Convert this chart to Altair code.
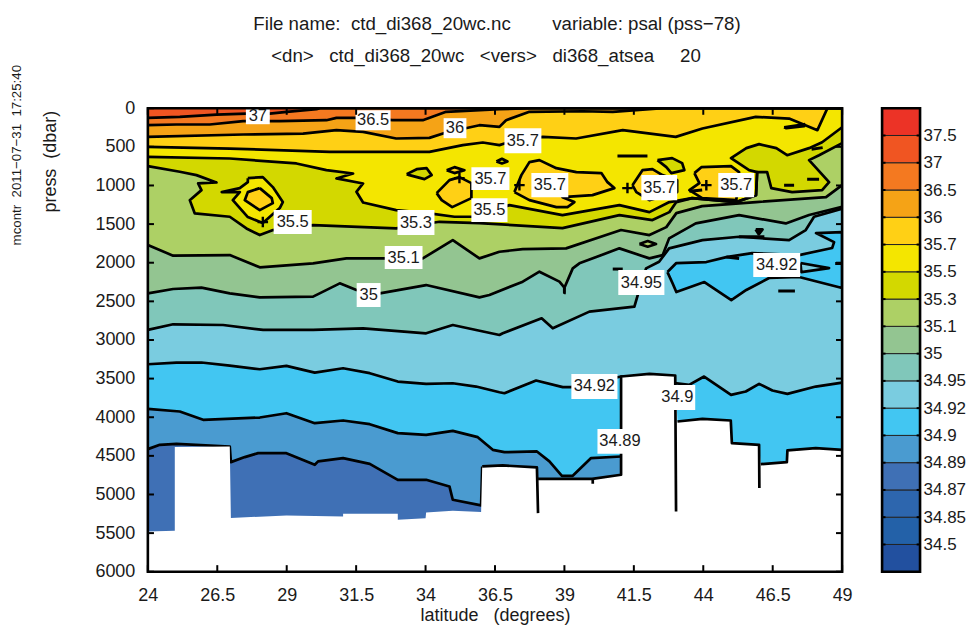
import altair as alt
import pandas as pd

FONT = "Liberation Sans"
INK = "#1a1a1a"

title_line1 = "File name:\u00a0\u00a0ctd_di368_20wc.nc\u00a0\u00a0\u00a0\u00a0\u00a0\u00a0\u00a0\u00a0variable: psal (pss\u221278)"
title_line2 = "<dn>\u00a0\u00a0\u00a0ctd_di368_20wc\u00a0\u00a0\u00a0<vers>\u00a0\u00a0\u00a0di368_atsea\u00a0\u00a0\u00a0\u00a0\u00a020"
stamp = "mcontr\u00a0\u00a02011\u221207\u221231\u00a0\u00a017:25:40"
y_title = "press\u00a0\u00a0(dbar)"
x_title = "latitude\u00a0\u00a0\u00a0(degrees)"

lat_ticks = [24, 26.5, 29, 31.5, 34, 36.5, 39, 41.5, 44, 46.5, 49]
press_ticks = [0, 500, 1000, 1500, 2000, 2500, 3000, 3500, 4000, 4500, 5000, 5500, 6000]

bar_labels = ["34.5", "34.85", "34.87", "34.89", "34.9", "34.92", "34.95", "35", "35.1", "35.3", "35.5", "35.7", "36", "36.5", "37", "37.5"]
bar_colors = ["#22509F", "#2361A8", "#2D66AE", "#3F70B5", "#4A9BD0", "#42C6F2", "#7ACCE0", "#80C7BA", "#93C591", "#ADD065",
              "#D3D800", "#F4E600", "#FFD015", "#F5A316", "#F47920", "#F05522", "#EC3326"]

# contour lines: latitude, pressure
c37_lat = [24, 25.15, 26.47, 27.55, 28.39, 29, 30.07, 30.2, 49]
c37_p = [125, 112, 82, 69, 69, 47, 13, 0, 0]
c365_lat = [24, 25.03, 26.23, 27.43, 28.75, 30.43, 30.79, 31.51, 32.82, 33.9, 34.74, 36.66, 37.8, 49]
c365_p = [220, 211, 211, 168, 168, 155, 125, 125, 155, 155, 47, 13, 0, 0]
c36_lat = [24, 27.43, 29.59, 30.79, 31.75, 32.94, 34.14, 34.74, 35.94, 36.66, 36.9, 37.74, 39.66, 40.74, 42.54, 49]
c36_p = [371, 340, 328, 284, 306, 392, 384, 315, 220, 241, 155, 47, 39, 47, 0, 0]
c357_lat = [24, 26.95, 30.55, 34.14, 35.34, 36.06, 36.66, 36.84, 38.22, 39.42, 41.1, 43.01, 43.97, 45.89, 47.09, 48.11, 48.47, 49]
c357_p = [500, 522, 565, 565, 478, 444, 478, 457, 371, 392, 284, 371, 263, 112, 134, 284, 0, 0]
c355_lat = [24, 26.95, 29.35, 30.43, 31.39, 30.79, 31.75, 31.51, 31.75, 32.94, 34.14, 35.04, 35.7, 37.02, 38.93, 40.98, 42.06, 42.78, 43.6, 45.19, 45.9, 45.94, 45.65, 45.0, 45.55, 46.01, 46.63, 47.02, 47.81, 48.28, 49]
c355_p = [629, 651, 715, 802, 845, 909, 974, 1082, 1220, 1319, 1362, 1405, 1405, 1254, 1384, 1254, 1345, 1215, 1164, 1215, 1125, 827, 802, 646, 517, 465, 517, 608, 517, 440, 246]
c353_lat = [24, 25.15, 25.75, 26.47, 25.81, 25.93, 25.51, 25.69, 26.95, 27.55, 28.03, 28.51, 29.95, 32.94, 34.5, 35.94, 38.93, 40.98, 42.17, 42.78, 43.03, 43.6, 45.19, 45.9, 45.94, 46.3, 46.45, 47.2, 48.28, 48.53, 47.81, 48.17, 49]
c353_p = [750, 823, 866, 961, 974, 1060, 1190, 1362, 1405, 1556, 1642, 1577, 1513, 1556, 1470, 1487, 1552, 1384, 1448, 1345, 1215, 1164, 1215, 1125, 827, 827, 1034, 1086, 1060, 957, 672, 608, 452]
c351_lat = [24, 24.91, 26.95, 28.03, 29.95, 31.15, 33.9, 34.98, 35.94, 36.66, 37.5, 39.06, 40.5, 41.04, 42.06, 42.67, 43.03, 43.96, 45.9, 48.42, 49]
c351_p = [1771, 1909, 1901, 2060, 2008, 1944, 1944, 1707, 1944, 1858, 1823, 1814, 1642, 1577, 1642, 1539, 1358, 1267, 1215, 1151, 996]
c35_lat = [24, 24.91, 25.93, 26.95, 28.03, 29.95, 30.91, 31.51, 32.35, 34.02, 35.94, 36.3, 37.5, 38.1, 38.82, 39, 39.3, 39.54, 40.98, 42.06, 42.54, 42.77, 43.73, 45.29, 46.97, 47.81, 49]
c35_p = [2396, 2340, 2323, 2396, 2448, 2439, 2267, 2353, 2396, 2289, 2448, 2418, 2245, 2116, 2245, 2323, 2073, 2008, 1814, 1944, 1901, 1685, 1491, 1383, 1491, 1383, 1276]
c3495_lat = [24, 24.91, 26.71, 28.15, 29.95, 31.75, 34.02, 34.98, 36.66, 36.78, 38.18, 38.58, 39.9, 41.52, 41.64, 41.94, 42.41, 42.77, 43.97, 45.29, 47.09, 47.69, 47.99, 49]
c3495_p = [2870, 2797, 2806, 2870, 2870, 2849, 2914, 2806, 2935, 2914, 2720, 2849, 2633, 2569, 2418, 2073, 1987, 1815, 1707, 1664, 1707, 1577, 1405, 1300]
c3492_lat = [24, 25.03, 25.93, 26.95, 28.03, 28.99, 30.01, 31.03, 31.99, 33, 34.02, 34.98, 35.82, 36.66, 36.84, 37.98, 38.94, 39.24, 41.04, 43.49, 44.03, 45.0, 45.53, 46.01, 46.49, 47.03, 48.05, 49]
c3492_p = [3314, 3292, 3292, 3331, 3379, 3335, 3422, 3366, 3430, 3538, 3568, 3560, 3603, 3676, 3689, 3525, 3611, 3611, 3473, 3581, 3473, 3710, 3667, 3568, 3654, 3698, 3603, 3551]
c349_lat = [24, 25.15, 25.99, 28.03, 28.99, 30.01, 31.03, 31.99, 33, 34.02, 34.98, 35.88, 36.42, 36.84, 38.01, 38.46, 38.91, 39.3, 39.96, 41.04]
c349_p = [3891, 3926, 4034, 4004, 3948, 4077, 4042, 4090, 4206, 4228, 4176, 4258, 4422, 4452, 4443, 4572, 4758, 4758, 4529, 4508]
c3489_lat = [24, 24.43, 25.03, 26.95, 26.99, 27.49, 27.97, 28.99, 30.01, 30.13, 31.03, 31.99, 33, 34.02, 34.86, 34.98, 36, 36.04]
c3489_p = [4413, 4357, 4344, 4379, 4581, 4516, 4465, 4465, 4616, 4572, 4529, 4603, 4810, 4810, 4896, 5068, 5141, 4637]

# closed patches
patch_a_lat = [28.03, 28.46, 28.5, 28.03, 27.49, 27.6, 28.03]
patch_a_p = [1034, 1164, 1228, 1319, 1190, 1086, 1034]
ring_a_lat = [27.6, 28.14, 28.5, 28.86, 28.75, 28.14, 27.6, 27.06, 27.31, 26.66, 27.31, 27.6, 27.6]
ring_a_p = [905, 892, 1021, 1215, 1293, 1487, 1409, 1190, 1086, 1086, 1034, 957, 905]
patch_b_lat = [34.4, 34.86, 35.22, 35.65, 35.65, 34.96, 34.58, 34.4]
patch_b_p = [1099, 931, 892, 970, 1164, 1280, 1190, 1099]
patch_c_lat = [37.2, 37.45, 37.74, 38.1, 38.71, 39.43, 40.33, 40.55, 40.8, 40.01, 38.93, 39.36, 39.11, 38.71, 37.74, 37.2]
patch_c_p = [1086, 866, 698, 672, 776, 827, 840, 957, 1034, 1125, 1151, 1215, 1280, 1280, 1190, 1086]
patch_d_lat = [41.45, 41.81, 42.17, 42.53, 43.06, 43.06, 42.06, 41.59, 41.45]
patch_d_p = [996, 802, 789, 866, 931, 1086, 1190, 1086, 996]
patch_e_lat = [43.68, 43.93, 45.0, 45.29, 45.19, 43.96, 43.5, 43.86, 43.68]
patch_e_p = [840, 763, 750, 827, 1190, 1164, 1060, 970, 840]
patch_f_lat = [34.76, 35.04, 35.4, 35.04, 34.76]
patch_f_p = [802, 763, 802, 840, 802]
patch_g_lat = [46.91, 47.63, 47.63, 46.99, 46.91]
patch_g_p = [246, 207, 233, 259, 246]
lens_a_lat = [33.32, 33.68, 34.04, 34.22, 33.96, 33.42, 33.32]
lens_a_p = [853, 789, 776, 866, 918, 866, 853]
lens_b_lat = [42.35, 42.88, 43.24, 43.32, 42.85, 42.67, 42.35]
lens_b_p = [672, 646, 711, 802, 840, 763, 672]
lens_c_lat = [36.55, 36.75, 36.95, 36.75, 36.55]
lens_c_p = [690, 655, 690, 715, 690]
lens_d_lat = [41.7, 42, 42.3, 42, 41.7]
lens_d_p = [1758, 1720, 1758, 1793, 1758]
pool_lat = [42.71, 43.03, 44.11, 44.83, 45.76, 47.45, 48.64, 48.71, 48.06, 49, 49, 47.45, 46.37, 45.55, 45.01, 44.04, 43.03, 42.89, 42.71]
pool_p = [2121, 2004, 1991, 1927, 1875, 1901, 1810, 1733, 1616, 1603, 2327, 2185, 2198, 2353, 2483, 2250, 2379, 2263, 2121]
finger_lat = [47.5, 48.53, 47.53, 47.5]
finger_p = [2004, 2069, 2121, 2004]

# short isolated contour pieces
stub_lats = [[40.91, 41.99], [46.91, 47.27], [47.74, 48.17], [40.74, 41.1], [39, 39, 39.05], [45.29, 46.2], [45.89, 46.13, 46.0, 45.89],
             [46.7, 47.3], [44.83, 45.29], [43.5, 43.96], [47.9, 48.3], [48.75, 49]]
stub_ps = [[620, 620], [996, 996], [918, 918], [2082, 2082], [2323, 2390, 2390], [1664, 1664], [1569, 1569, 1630, 1569],
           [2366, 2366], [1927, 1945], [1075, 1060], [530, 510], [2010, 2010]]

# sea floor
floor_lat = [24, 24.97, 24.97, 26.95, 26.99, 28.99, 31.03, 31.03, 33, 33, 34, 34.02, 34.98, 36, 36.04, 36.78, 38.01, 38.05, 40.0, 41.04, 41.04, 42.06, 42.99, 43.07, 43.97, 44.99, 45.03, 46.01, 46.07, 47.01, 47.03, 48.05, 49]
floor_p = [5478, 5469, 4387, 4379, 5305, 5271, 5284, 5249, 5249, 5327, 5309, 5232, 5210, 5228, 4637, 4624, 4650, 4797, 4797, 4745, 3473, 3439, 3460, 4055, 4021, 4042, 4335, 4357, 4607, 4581, 4430, 4400, 4422]
edge_lats = [[36.04, 36.78, 38.01, 38.05], [38.05, 40.0, 41.04, 41.04, 42.06, 42.99, 43.02], [43.07, 43.97, 44.99, 45.03, 46.01, 46.02], [46.07, 47.01, 47.03, 48.05, 49], [40.02, 40.02]]
edge_ps = [[4637, 4624, 4650, 5241], [4797, 4797, 4745, 3473, 3439, 3460, 5219], [4055, 4021, 4042, 4335, 4357, 4917], [4607, 4581, 4430, 4400, 4422], [4788, 4861]]

# contour labels
label_text = ["37", "36.5", "36", "35.7", "35.7", "35.5", "35.5", "35.3", "35.1", "35", "35.7", "35.7", "35.7", "34.95", "34.92", "34.92", "34.9", "34.89"]
label_lat0 = [27.53, 31.48, 34.65, 36.84, 35.65, 35.65, 28.53, 32.99, 32.53, 31.52, 37.81, 41.77, 44.54, 40.94, 45.8, 39.25, 42.42, 40.19]
label_lat1 = [28.39, 32.74, 35.47, 38.17, 37.02, 36.95, 29.9, 34.32, 33.89, 32.38, 39.14, 43.06, 45.83, 42.6, 47.49, 40.91, 43.71, 41.81]
label_p0 = [0, 26, 129, 259, 763, 1164, 1319, 1319, 1784, 2263, 840, 866, 840, 2095, 1875, 3439, 3582, 4151]
label_p1 = [207, 284, 388, 582, 1060, 1474, 1629, 1642, 2082, 2573, 1151, 1190, 1151, 2418, 2185, 3763, 3905, 4474]
plus_lat = [28.14, 35.22, 37.38, 41.27, 44.11]
plus_p = [1474, 905, 996, 1034, 996]

X = alt.X("lat:Q", scale=alt.Scale(domain=[24, 49], nice=False, zero=False),
          axis=alt.Axis(values=lat_ticks, format=".1~f", domain=False, ticks=False, grid=False, labelFont=FONT, labelFontSize=18,
                        labelColor=INK, labelPadding=15, title=x_title, titleFont=FONT, titleFontSize=18, titleFontWeight="normal",
                        titleColor=INK, titlePadding=2, labelOverlap=False, labelFlush=False))
Y = alt.Y("p:Q", scale=alt.Scale(domain=[0, 6000], reverse=True, nice=False, zero=False),
          axis=alt.Axis(values=press_ticks, domain=False, ticks=False, grid=False, labelFont=FONT, labelFontSize=18, labelColor=INK,
                        labelPadding=13, title=None, labelOverlap=False, format="d"))


def frame(lat, p, base):
    return pd.DataFrame({"lat": lat, "p": p, "base": base})


def fill(lat, p, color, base=6000):
    return alt.Chart(frame(lat, p, base)).mark_area(color=color, orient="vertical", clip=True, order=False).encode(
        x=X, y=Y, y2="base:Q")


def line(lat, p, width=2.7):
    return alt.Chart(frame(lat, p, 0)).mark_line(color="black", strokeWidth=width, strokeJoin="round", clip=True, order=False).encode(
        x=X, y=Y)


layers = [fill([24, 49], [0, 0], bar_colors[15])]
bands = [(c37_lat, c37_p, bar_colors[14]), (c365_lat, c365_p, bar_colors[13]), (c36_lat, c36_p, bar_colors[12]),
         (c357_lat, c357_p, bar_colors[11]), (c355_lat, c355_p, bar_colors[10]), (c353_lat, c353_p, bar_colors[9]),
         (c351_lat, c351_p, bar_colors[8]), (c35_lat, c35_p, bar_colors[7]), (c3495_lat, c3495_p, bar_colors[6]),
         (c3492_lat, c3492_p, bar_colors[5]), (c349_lat, c349_p, bar_colors[4]), (c3489_lat, c3489_p, bar_colors[3])]
for la, pr, col in bands:
    layers.append(fill(la, pr, col))

patches = [(ring_a_lat, ring_a_p, bar_colors[11], 1150), (patch_a_lat, patch_a_p, bar_colors[12], 1170), (patch_b_lat, patch_b_p, bar_colors[12], 1080),
           (patch_c_lat, patch_c_p, bar_colors[12], 1000), (patch_d_lat, patch_d_p, bar_colors[12], 1000), (patch_e_lat, patch_e_p, bar_colors[12], 1000),
           (patch_f_lat, patch_f_p, bar_colors[12], 800), (patch_g_lat, patch_g_p, bar_colors[12], 235), (lens_a_lat, lens_a_p, bar_colors[10], 850),
           (lens_b_lat, lens_b_p, bar_colors[10], 750), (lens_c_lat, lens_c_p, bar_colors[10], 690), (lens_d_lat, lens_d_p, bar_colors[9], 1758),
           (pool_lat, pool_p, bar_colors[5], 2100), (finger_lat, finger_p, bar_colors[6], 2060)]
for la, pr, col, base in patches:
    layers.append(fill(la, pr, col, base))

for la, pr, _ in bands:
    layers.append(line(la, pr))
for la, pr, _, _ in patches:
    layers.append(line(la, pr))
for la, pr in zip(stub_lats, stub_ps):
    layers.append(line(la, pr, 3))

layers.append(fill(floor_lat, floor_p, "white"))
for la, pr in zip(edge_lats, edge_ps):
    layers.append(line(la, pr))

plus_df = pd.DataFrame({"lat": plus_lat, "p": plus_p})
layers.append(alt.Chart(plus_df).mark_point(shape="M-1,0L1,0M0,-1L0,1", size=110, stroke="black", strokeWidth=2.4, opacity=1).encode(x=X, y=Y))

label_df = pd.DataFrame({"lat": label_lat0, "lat1": label_lat1, "p": label_p0, "p1": label_p1, "t": label_text})
text_df = pd.DataFrame({"lat": (label_df["lat"] + label_df["lat1"]) / 2, "p": (label_df["p"] + label_df["p1"]) / 2, "t": label_text})
layers.append(alt.Chart(label_df).mark_rect(color="white").encode(x=X, x2="lat1:Q", y=Y, y2="p1:Q"))
layers.append(alt.Chart(text_df).mark_text(font=FONT, fontSize=16.5, color=INK, baseline="middle", align="center").encode(x=X, y=Y, text="t:N"))

# inward ticks and frame
xt = pd.DataFrame({"lat": lat_ticks})
for a, b in [(0, 85), (5915, 6000)]:
    d = xt.assign(p=a, p1=b)
    layers.append(alt.Chart(d).mark_rule(color="black", strokeWidth=2).encode(x=X, y=Y, y2="p1:Q"))
yt = pd.DataFrame({"p": press_ticks})
for a, b in [(24, 24.22), (48.78, 49)]:
    d = yt.assign(lat=a, lat1=b)
    layers.append(alt.Chart(d).mark_rule(color="black", strokeWidth=2).encode(x=X, x2="lat1:Q", y=Y))
box = pd.DataFrame({"lat": [24], "lat1": [49], "p": [0], "p1": [6000]})
layers.append(alt.Chart(box).mark_rect(fillOpacity=0, stroke="black", strokeWidth=2.6).encode(x=X, x2="lat1:Q", y=Y, y2="p1:Q"))


def note(text, x, y, size, angle=0):
    return alt.Chart(pd.DataFrame({"t": [text]})).mark_text(font=FONT, fontSize=size, color=INK, angle=angle, align="center", baseline="middle").encode(
        x=alt.value(x), y=alt.value(y), text="t:N")


layers.append(note(title_line1, 349.5, -84, 18.7))
layers.append(note(title_line2, 338.5, -52, 18.7))
layers.append(note(y_title, -97, 53.5, 18, 270))
layers.append(note(stamp, -131, 47, 13.3, 270))

main = alt.layer(*layers).properties(width=695, height=464)

bar_df = pd.DataFrame({"lo": list(range(17)), "hi": list(range(1, 18)), "c": bar_colors})
bar_y = alt.Y("lo:Q", scale=alt.Scale(domain=[0, 17], nice=False, zero=False),
              axis=alt.Axis(orient="right", values=list(range(1, 17)), domain=False, ticks=False, grid=False, title=None, labelFont=FONT,
                            labelFontSize=17, labelColor=INK, labelPadding=3, labelOverlap=False,
                            labelExpr="[" + ",".join("'" + s + "'" for s in bar_labels) + "][datum.value-1]"))
bar_x = alt.X("a:Q", scale=alt.Scale(domain=[0, 1], nice=False, zero=False), axis=None)
bars = alt.Chart(bar_df.assign(a=0, b=1)).mark_rect(stroke="#222222", strokeWidth=1).encode(
    x=bar_x, x2="b:Q", y=bar_y, y2="hi:Q", color=alt.Color("c:N", scale=None))
bar_ticks = []
for a, b in [(0, 0.09), (0.91, 1)]:
    d = pd.DataFrame({"lo": list(range(1, 17))}).assign(a=a, b=b)
    bar_ticks.append(alt.Chart(d).mark_rule(color="black", strokeWidth=2).encode(x=bar_x, x2="b:Q", y=bar_y))
bar_box = alt.Chart(pd.DataFrame({"a": [0], "b": [1], "lo": [0], "hi": [17]})).mark_rect(fillOpacity=0, stroke="black", strokeWidth=2.6).encode(
    x=bar_x, x2="b:Q", y=bar_y, y2="hi:Q")
bar = alt.layer(bars, *bar_ticks, bar_box).properties(width=38, height=464)

chart = alt.hconcat(main, bar, spacing=27).resolve_scale(y="independent", x="independent").properties(
    padding={"left": 1, "top": 7, "right": 0, "bottom": 0}, background="white"
).configure_view(strokeWidth=0)

chart.save("out.html", embed_options={"renderer": "svg", "actions": False})
